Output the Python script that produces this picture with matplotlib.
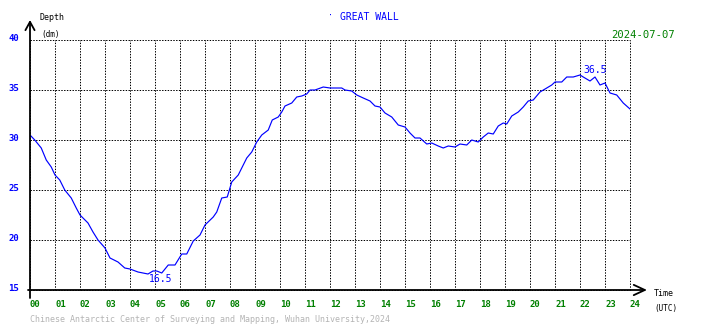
import matplotlib
matplotlib.use('Agg')
import matplotlib.pyplot as plt
from matplotlib.transforms import ScaledTranslation

# hourly tide depth (dm)
hours = [0.0, 0.19, 0.45, 0.65, 0.85, 1.0, 1.19, 1.39, 1.65, 1.85, 2.0, 2.32, 2.52, 2.72,
         3.0, 3.2, 3.52, 3.79, 4.0, 4.32, 4.52, 4.72, 4.92, 5.07, 5.27, 5.53, 5.8, 6.07,
         6.27, 6.53, 6.8, 7.0, 7.33, 7.47, 7.67, 7.89, 8.07, 8.33, 8.67, 8.87, 9.07, 9.27,
         9.53, 9.69, 9.93, 10.07, 10.2, 10.47, 10.67, 10.87, 11.07, 11.2, 11.4, 11.73, 12.0,
         12.27, 12.47, 12.6, 12.87, 13.07, 13.33, 13.6, 13.8, 14.0, 14.2, 14.47, 14.73, 15.0,
         15.2, 15.4, 15.6, 15.87, 16.07, 16.33, 16.53, 16.73, 17.0, 17.2, 17.47, 17.67, 17.93,
         18.13, 18.33, 18.53, 18.73, 18.93, 19.07, 19.27, 19.53, 19.73, 19.93, 20.13, 20.4,
         20.67, 20.87, 21.0, 21.27, 21.47, 21.73, 22.0, 22.13, 22.4, 22.6, 22.8, 23.0, 23.2,
         23.47, 23.73, 24.0]
depth = [30.5, 30.0, 29.2, 28.0, 27.3, 26.5, 26.0, 25.0, 24.2, 23.2, 22.5, 21.7, 20.8, 20.0,
         19.2, 18.2, 17.8, 17.2, 17.1, 16.8, 16.7, 16.6, 16.9, 16.9, 16.7, 17.5, 17.5, 18.6,
         18.6, 19.9, 20.5, 21.5, 22.3, 22.8, 24.2, 24.3, 25.8, 26.5, 28.2, 28.8, 29.8, 30.5,
         31.0, 32.0, 32.3, 32.8, 33.4, 33.7, 34.3, 34.4, 34.6, 35.0, 35.0, 35.3, 35.2,
         35.2, 35.2, 35.0, 34.9, 34.5, 34.2, 33.9, 33.4, 33.3, 32.7, 32.3, 31.5, 31.3,
         30.7, 30.2, 30.2, 29.6, 29.7, 29.4, 29.2, 29.4, 29.3, 29.6, 29.5, 30.0, 29.8,
         30.3, 30.7, 30.6, 31.4, 31.7, 31.6, 32.4, 32.8, 33.3, 33.9, 34.0, 34.8,
         35.2, 35.5, 35.8, 35.8, 36.3, 36.3, 36.5, 36.3, 35.9, 36.3, 35.5, 35.7, 34.7,
         34.5, 33.7, 33.1]

x_ticks = list(range(25))
x_labels = ['%02d' % h for h in x_ticks]
y_ticks = [15, 20, 25, 30, 35, 40]
y_labels = [str(v) for v in y_ticks]

# extreme labels: (hour, depth, text)
extremes = [(5.24, 16.1, '16.5'), (22.62, 37.0, '36.5')]

station = 'GREAT WALL'
date = '2024-07-07'
credit = 'Chinese Antarctic Center of Surveying and Mapping, Wuhan University,2024'

W, H = 710, 328
BLUE = '#0000ff'
GREEN = '#008000'
MONO = 'DejaVu Sans Mono'

def px(x, y):
    return x / W, 1 - y / H

fig = plt.figure(figsize=(W / 100, H / 100), dpi=100)
ax = fig.add_axes([30 / W, 38 / H, 600 / W, 250 / H])
ax.set_xlim(0, 24)
ax.set_ylim(15, 40)

ax.plot(hours, depth, color=BLUE, lw=0.85, zorder=3)

ax.set_xticks(x_ticks, x_labels)
ax.set_yticks(y_ticks, y_labels)
ax.grid(True, color='black', linestyle=(0, (1.4, 1.4)), linewidth=0.72)
for gl in ax.xaxis.get_gridlines() + ax.yaxis.get_gridlines():
    gl.set_clip_on(False)
for s in ax.spines.values():
    s.set_visible(False)
ax.tick_params(axis='x', length=0, pad=7, labelsize=6.5, labelcolor=GREEN)
ax.tick_params(axis='y', length=0, pad=8, labelsize=6.5, labelcolor=BLUE)
for lbl in ax.get_xticklabels():
    lbl.set_ha('left')
    lbl.set_family(MONO)
    lbl.set_fontweight('bold')
off = ScaledTranslation(0, 2 / 72, fig.dpi_scale_trans)
for lbl in ax.get_yticklabels():
    lbl.set_family(MONO)
    lbl.set_fontweight('bold')
    lbl.set_transform(lbl.get_transform() + off)

# axes with arrow heads
ax.annotate('', xy=(0, 42.0), xytext=(0, 14.2), xycoords='data', annotation_clip=False,
            arrowprops=dict(arrowstyle='->,head_length=0.6,head_width=0.33', color='black',
                            lw=1.3, shrinkA=0, shrinkB=0))
ax.annotate('', xy=(24.68, 15), xytext=(-0.08, 15), xycoords='data', annotation_clip=False,
            arrowprops=dict(arrowstyle='->,head_length=0.8,head_width=0.37', color='black',
                            lw=1.3, shrinkA=0, shrinkB=0))

for hx, dy, txt in extremes:
    ax.text(hx, dy, txt, color=BLUE, fontsize=7, family=MONO, ha='center', va='center')

fig.text(*px(40, 17), 'Depth', fontsize=6, family=MONO, ha='left', va='center')
fig.text(*px(41, 34), '(dm)', fontsize=5.5, family=MONO, ha='left', va='center')
fig.text(*px(654, 294), 'Time', fontsize=6, family=MONO, ha='left', va='center')
fig.text(*px(654, 309), '(UTC)', fontsize=5.5, family=MONO, ha='left', va='center')
fig.text(*px(331, 16), '·', fontsize=6, color=BLUE, family=MONO, ha='center', va='center')
fig.text(*px(340, 17), station, fontsize=7, color=BLUE, family=MONO, ha='left', va='center')
fig.text(*px(611, 35), date, fontsize=7.6, color=GREEN, family=MONO, ha='left', va='center',
         bbox=dict(facecolor='white', edgecolor='none', pad=0))
fig.text(*px(30, 320), credit, fontsize=6, color='#b4b4b4', family=MONO, ha='left', va='center')

fig.savefig('out.png', dpi=100)
